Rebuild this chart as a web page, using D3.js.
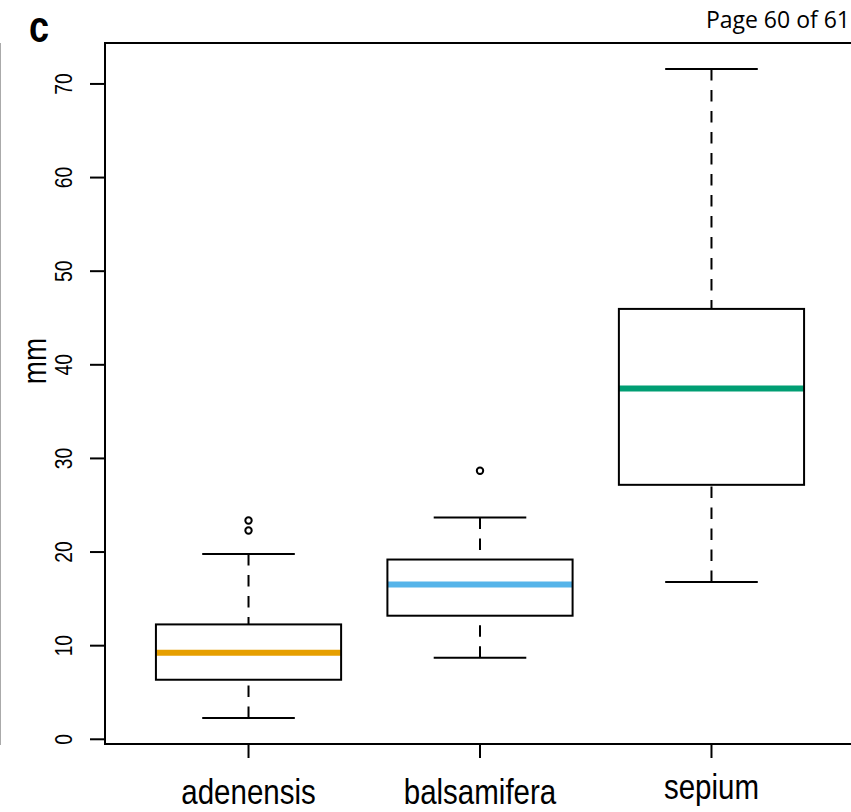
<!DOCTYPE html>
<html>
<head>
<meta charset="utf-8">
<script src="https://cdn.jsdelivr.net/npm/d3@7"></script>
<style>
  body { margin: 0; background: #fff; }
  svg { display: block; }
</style>
</head>
<body>
<svg id="chart" width="851" height="812"></svg>
<script>
// box stats (mm)
var categories = ["adenensis", "balsamifera", "sepium"];
var whiskerLow = [2.27, 8.71, 16.8];
var q1 = [6.36, 13.2, 27.18];
var median = [9.25, 16.54, 37.46];
var q3 = [12.27, 19.2, 45.97];
var whiskerHigh = [19.78, 23.69, 71.6];
var outliers = [[23.37, 22.3], [28.68], []];
var medianColors = ["#E69F00", "#56B4E9", "#009E73"];
var yTicks = [0, 10, 20, 30, 40, 50, 60, 70];

var narrow = 0.82; // helvetica-narrow look

var svg = d3.select("#chart");

var plot = {left: 105, right: 855, top: 43, bottom: 744};

// R style: xlim 0.5..n+0.5, then 4% extension on both axes
var x = d3.scaleLinear()
    .domain([0.5 - 0.12, categories.length + 0.5 + 0.12])
    .range([plot.left, plot.right]);

var allVals = whiskerLow.concat(whiskerHigh, d3.merge(outliers));
var yMin = d3.min(allVals), yMax = d3.max(allVals), ext = (yMax - yMin) * 0.04;
var y = d3.scaleLinear()
    .domain([yMin - ext, yMax + ext])
    .range([plot.bottom, plot.top]);

// gray page edge on the left
svg.append("line")
    .attr("x1", 0.5).attr("x2", 0.5)
    .attr("y1", 43).attr("y2", 745)
    .attr("stroke", "#aaa")
    .attr("stroke-width", 1);

var boxes = svg.selectAll("g.box")
    .data(categories)
  .enter().append("g")
    .attr("class", "box");

var halfBox = x(1.4) - x(1), halfCap = x(1.2) - x(1);

// whiskers, dashed from the whisker end toward the box
boxes.append("line")
    .attr("x1", function(d, i) { return x(i + 1); })
    .attr("x2", function(d, i) { return x(i + 1); })
    .attr("y1", function(d, i) { return y(whiskerHigh[i]); })
    .attr("y2", function(d, i) { return y(q3[i]); })
    .attr("stroke", "#000").attr("stroke-width", 2)
    .attr("stroke-dasharray", "11.5,9.5");

boxes.append("line")
    .attr("x1", function(d, i) { return x(i + 1); })
    .attr("x2", function(d, i) { return x(i + 1); })
    .attr("y1", function(d, i) { return y(whiskerLow[i]); })
    .attr("y2", function(d, i) { return y(q1[i]); })
    .attr("stroke", "#000").attr("stroke-width", 2)
    .attr("stroke-dasharray", "11.5,9.5");

// caps
[whiskerHigh, whiskerLow].forEach(function(arr) {
  boxes.append("line")
      .attr("x1", function(d, i) { return x(i + 1) - halfCap; })
      .attr("x2", function(d, i) { return x(i + 1) + halfCap; })
      .attr("y1", function(d, i) { return y(arr[i]); })
      .attr("y2", function(d, i) { return y(arr[i]); })
      .attr("stroke", "#000").attr("stroke-width", 2);
});

// box body
boxes.append("rect")
    .attr("x", function(d, i) { return x(i + 1) - halfBox; })
    .attr("y", function(d, i) { return y(q3[i]); })
    .attr("width", halfBox * 2)
    .attr("height", function(d, i) { return y(q1[i]) - y(q3[i]); })
    .attr("fill", "#fff");

// median
boxes.append("line")
    .attr("x1", function(d, i) { return x(i + 1) - halfBox; })
    .attr("x2", function(d, i) { return x(i + 1) + halfBox; })
    .attr("y1", function(d, i) { return y(median[i]); })
    .attr("y2", function(d, i) { return y(median[i]); })
    .attr("stroke", function(d, i) { return medianColors[i]; })
    .attr("stroke-width", 6);

boxes.append("rect")
    .attr("x", function(d, i) { return x(i + 1) - halfBox; })
    .attr("y", function(d, i) { return y(q3[i]); })
    .attr("width", halfBox * 2)
    .attr("height", function(d, i) { return y(q1[i]) - y(q3[i]); })
    .attr("fill", "none")
    .attr("stroke", "#000").attr("stroke-width", 2);

// outliers
boxes.selectAll("circle")
    .data(function(d, i) { return outliers[i].map(function(v) { return {i: i, v: v}; }); })
  .enter().append("circle")
    .attr("cx", function(d) { return x(d.i + 1); })
    .attr("cy", function(d) { return y(d.v); })
    .attr("r", 3.2)
    .attr("fill", "none")
    .attr("stroke", "#000").attr("stroke-width", 2);

// plot frame
svg.append("rect")
    .attr("x", plot.left).attr("y", plot.top)
    .attr("width", plot.right - plot.left)
    .attr("height", plot.bottom - plot.top)
    .attr("fill", "none")
    .attr("stroke", "#000").attr("stroke-width", 2);

// y axis ticks + rotated labels
var yAxis = svg.append("g");
yAxis.selectAll("line")
    .data(yTicks)
  .enter().append("line")
    .attr("x1", 90).attr("x2", plot.left)
    .attr("y1", function(d) { return y(d); })
    .attr("y2", function(d) { return y(d); })
    .attr("stroke", "#000").attr("stroke-width", 2);

yAxis.selectAll("text")
    .data(yTicks)
  .enter().append("text")
    .attr("transform", function(d) { return "translate(72," + y(d) + ") rotate(-90) scale(" + narrow + ",1)"; })
    .attr("text-anchor", "middle")
    .style("font-family", "'Liberation Sans', Arial, sans-serif")
    .style("font-size", "23.5px")
    .text(function(d) { return d; });

// x axis ticks + labels
var xAxis = svg.append("g");
xAxis.selectAll("line")
    .data(categories)
  .enter().append("line")
    .attr("x1", function(d, i) { return x(i + 1); })
    .attr("x2", function(d, i) { return x(i + 1); })
    .attr("y1", plot.bottom).attr("y2", 758)
    .attr("stroke", "#000").attr("stroke-width", 2);

xAxis.selectAll("text")
    .data(categories)
  .enter().append("text")
    .attr("transform", function(d, i) {
      var base = d === "sepium" ? 799 : 804;
      return "translate(" + x(i + 1) + "," + base + ") scale(" + narrow + ",1)";
    })
    .attr("text-anchor", "middle")
    .style("font-family", "'Liberation Sans', Arial, sans-serif")
    .style("font-size", "36px")
    .text(function(d) { return d; });

// y axis title
svg.append("text")
    .attr("transform", "translate(46,361) rotate(-90) scale(" + narrow + ",1)")
    .attr("text-anchor", "middle")
    .style("font-family", "'Liberation Sans', Arial, sans-serif")
    .style("font-size", "34px")
    .text("mm");

// panel letter
svg.append("text")
    .attr("transform", "translate(29,42) scale(" + narrow + ",1)")
    .style("font-family", "'Liberation Sans', Arial, sans-serif")
    .style("font-weight", "bold")
    .style("font-size", "44px")
    .text("c");

// page header
svg.append("text")
    .attr("x", 850).attr("y", 28)
    .attr("text-anchor", "end")
    .style("font-family", "'Open Sans', sans-serif")
    .style("font-size", "23px")
    .text("Page 60 of 61");
</script>
</body>
</html>
